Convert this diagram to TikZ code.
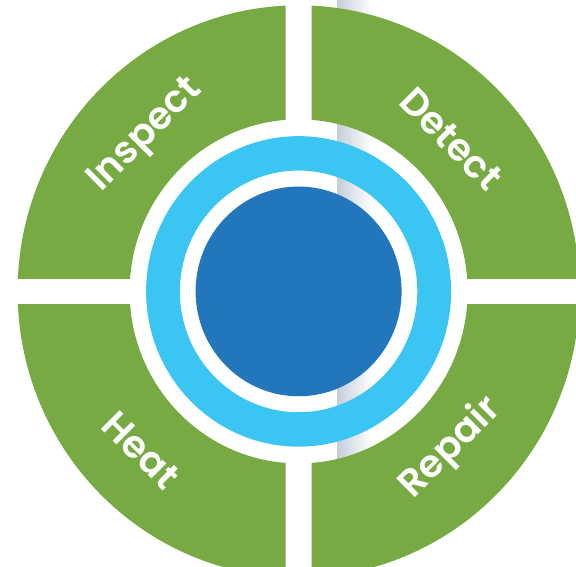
\documentclass[tikz,border=0pt]{standalone}
\usepackage{fontspec}
\newfontfamily\cyclefont{Poppins SemiBold}
\usetikzlibrary{positioning}
\definecolor{cyclegreen}{HTML}{77AA43}
\definecolor{ringblue}{HTML}{3BC5F3}
\definecolor{coreblue}{HTML}{2176BC}
\definecolor{foldgray}{HTML}{C4CFDA}
\tikzstyle{quadlabel} = [text=white, inner sep=0pt,
font=\cyclefont\fontsize{38}{42}\selectfont]

\begin{document}
\begin{tikzpicture}[x=1pt, y=-1pt]
                \useasboundingbox (0,0) rectangle (576,566);
                \fill[white] (0,0) rectangle (576,566);
                \shade[left color=foldgray, right color=white] (337,0) rectangle (372,566);
                \coordinate (c) at (298.6,291.4);
                \begin{scope}[shift={(c)}, yscale=1.018]
                \foreach \sx/\sy in {1/1,1/-1,-1/1,-1/-1}{
                        \begin{scope}
                        \clip (13*\sx,13*\sy) rectangle (300*\sx,300*\sy);
                        \fill[cyclegreen, even odd rule] (0,0) circle[radius=281] (0,0) circle[radius=169];
                        \end{scope}
                }
                \fill[ringblue, even odd rule] (0,0) circle[radius=152.5] (0,0) circle[radius=118.7];
                \fill[coreblue] (0,0) circle[radius=103];
                \end{scope}
                \node (inspect) [quadlabel, rotate=45] at (146,136) {Inspect};
                \node (detect) [quadlabel, rotate=-45] at (451,139) {Detect};
                \node (heat) [quadlabel, rotate=-45] at (141,450) {Heat};
                \node (repair) [quadlabel, rotate=45] at (451,448) {Repair};
\end{tikzpicture}
\end{document}
